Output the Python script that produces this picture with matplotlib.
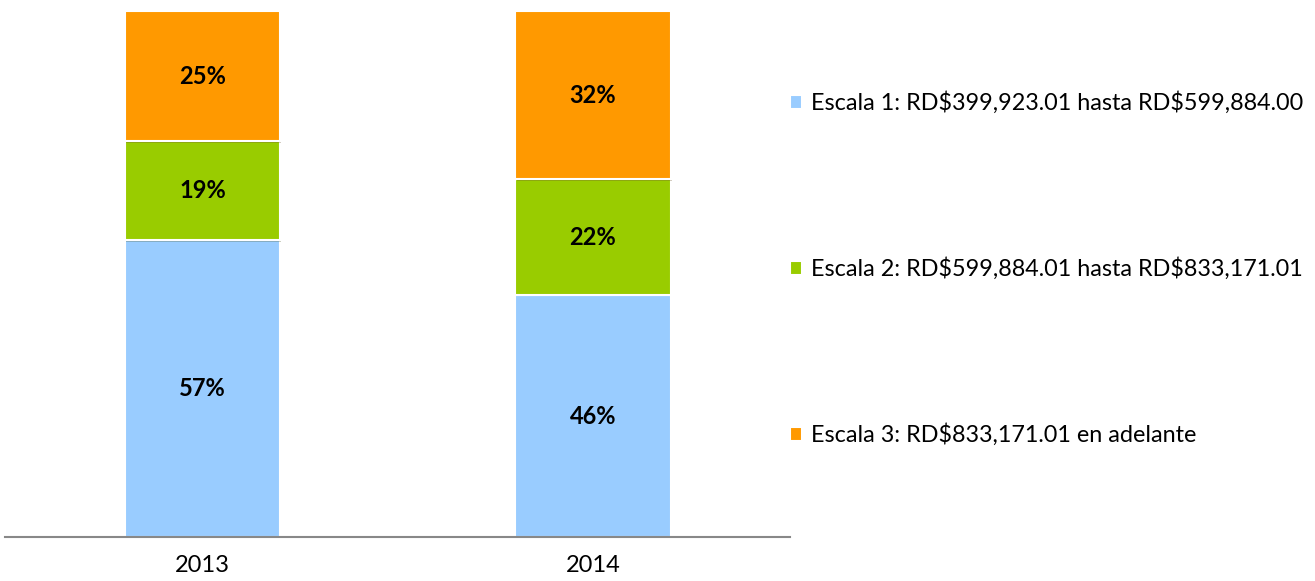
import matplotlib
matplotlib.use("Agg")
import matplotlib.pyplot as plt
import matplotlib.patheffects as pe
import numpy as np

plt.rcParams['font.family'] = ['Lato', 'DejaVu Sans']
plt.rcParams['text.parse_math'] = False

years = ["2013", "2014"]
series_names = [
    "Escala 1: RD$399,923.01 hasta RD$599,884.00",
    "Escala 2: RD$599,884.01 hasta RD$833,171.01",
    "Escala 3: RD$833,171.01 en adelante",
]
escala1 = [57, 46]
escala2 = [19, 22]
escala3 = [25, 32]
colors = ["#99CCFF", "#99CC00", "#FF9900"]

W, H = 1315, 581
fig = plt.figure(figsize=(W / 100, H / 100), dpi=100)
ax = fig.add_axes([5 / W, 1 - 537 / H, 785 / W, 526 / H])

data = np.array([escala1, escala2, escala3], dtype=float)
totals = data.sum(axis=0)
pct = data / totals * 100
x = np.arange(len(years))
bottom = np.zeros(len(years))
handles = []
for i, (vals, raw) in enumerate(zip(pct, data)):
    bars = ax.bar(x, vals, width=0.397, bottom=bottom, color=colors[i],
                  edgecolor="white", linewidth=1.5, label=series_names[i],
                  path_effects=[pe.SimplePatchShadow(offset=(1, -1), alpha=0.25), pe.Normal()])
    handles.append(bars)
    for xi, b, v, r in zip(x, bottom, vals, raw):
        ax.text(xi, b + v / 2, f"{int(r)}%", ha="center", va="center",
                fontsize=17, fontweight="bold", color="black")
    bottom += vals

ax.set_xlim(-0.5058, 1.5045)
ax.set_ylim(0, 100)
ax.set_xticks(x)
ax.set_xticklabels(years, fontsize=17)
ax.tick_params(axis="x", length=0, pad=13)
ax.set_yticks([])
for s in ["top", "right", "left"]:
    ax.spines[s].set_visible(False)
ax.spines["bottom"].set_color("#888888")
ax.spines["bottom"].set_linewidth(1.5)

leg = fig.legend(handles=handles, labels=series_names, loc="upper left",
                 bbox_to_anchor=(781 / W, 1 - 82 / H), frameon=False,
                 fontsize=16.8, handlelength=0.52, handleheight=0.52,
                 handletextpad=0.36, labelspacing=6.15, borderaxespad=0)
for h in leg.legend_handles:
    h.set_path_effects([])

fig.savefig("out.png", dpi=100)
